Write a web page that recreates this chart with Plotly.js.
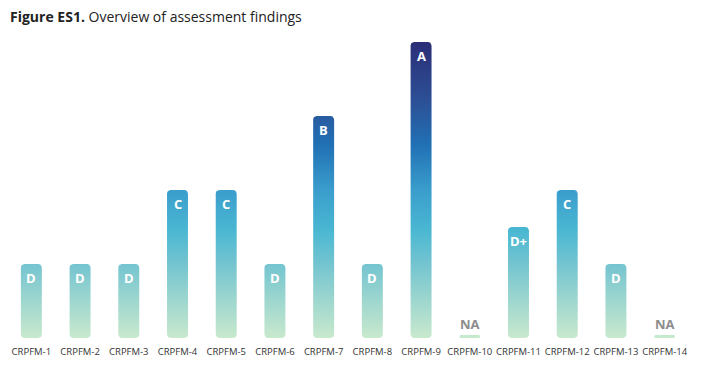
<!DOCTYPE html>
<html>
<head>
<meta charset="utf-8">
<script src="https://cdn.plot.ly/plotly-3.0.1.min.js"></script>
<style>html,body{margin:0;padding:0;background:#fff}#chart{width:717px;height:389px}</style>
</head>
<body>
<div id="chart"></div>
<script>
// ---- data ----
const categories = ["CRPFM-1","CRPFM-2","CRPFM-3","CRPFM-4","CRPFM-5","CRPFM-6","CRPFM-7","CRPFM-8","CRPFM-9","CRPFM-10","CRPFM-11","CRPFM-12","CRPFM-13","CRPFM-14"];
const grades = ["D","D","D","C","C","D","B","D","A","NA","D+","C","D","NA"];
const scores = [1, 1, 1, 2, 2, 1, 3, 1, 4, 0.04, 1.5, 2, 1, 0.04];

// ---- layout geometry ----
const W = 717, H = 389;
const margin = {l: 7, r: 28, t: 42, b: 51};
const yMax = 4;
const pxPerX = (W - margin.l - margin.r) / categories.length;
const pxPerY = (H - margin.t - margin.b) / yMax;
const halfW = 0.215;
const radPx = 3.5;
const rx = radPx / pxPerX, ry = radPx / pxPerY;

// Build rounded-rectangle polygons from data values
const px = [], py = [];
scores.forEach((v, i) => {
  const x0 = i - halfW, x1 = i + halfW;
  const r_y = Math.min(ry, v / 2), r_x = rx * (r_y / ry);
  const pts = [];
  function arc(cx, cy, a0, a1) {
    const n = 6;
    for (let k = 0; k <= n; k++) {
      const a = a0 + (a1 - a0) * k / n;
      pts.push([cx + r_x * Math.cos(a), cy + r_y * Math.sin(a)]);
    }
  }
  arc(x0 + r_x, r_y, Math.PI, 1.5 * Math.PI);
  arc(x1 - r_x, r_y, 1.5 * Math.PI, 2 * Math.PI);
  arc(x1 - r_x, v - r_y, 0, 0.5 * Math.PI);
  arc(x0 + r_x, v - r_y, 0.5 * Math.PI, Math.PI);
  pts.push(pts[0]);
  pts.forEach(p => { px.push(p[0]); py.push(Math.max(0, p[1])); });
  px.push(null); py.push(null);
});

const colorscale = [
  [0.0, "#c8e9cd"],
  [0.25, "#74c4d0"],
  [0.36, "#4bb8d2"],
  [0.5, "#3a9dcc"],
  [0.65, "#2171b5"],
  [0.8, "#2c5096"],
  [1.0, "#2b2e77"]
];

const traces = [{
  type: "scatter",
  mode: "lines",
  x: px, y: py,
  fill: "toself",
  connectgaps: false,
  line: {width: 0, color: "rgba(0,0,0,0)"},
  fillgradient: {type: "vertical", colorscale: colorscale, start: 0, stop: yMax},
  hoverinfo: "skip",
  showlegend: false
}];

const annotations = grades.map((g, i) => {
  const isNA = g === "NA";
  return {
    x: i, y: scores[i], xref: "x", yref: "y",
    text: "<b>" + g + "</b>",
    showarrow: false,
    yanchor: isNA ? "bottom" : "top",
    yshift: isNA ? 0 : -3,
    font: {family: "Open Sans", size: 13, color: isNA ? "#8c8c8c" : "#ffffff"}
  };
});

const layout = {
  width: W, height: H,
  margin: margin,
  paper_bgcolor: "#fff", plot_bgcolor: "#fff",
  title: {
    text: "<b>Figure ES1.</b> Overview of assessment findings",
    font: {family: "Open Sans", size: 14, color: "#222"},
    xref: "container", x: 10 / W, xanchor: "left",
    yref: "container", y: 1 - 17 / H, yanchor: "middle"
  },
  xaxis: {
    range: [-0.5, categories.length - 0.5],
    tickvals: categories.map((c, i) => i),
    ticktext: categories,
    showgrid: false, zeroline: false, showline: false, ticks: "",
    ticklabelstandoff: 6,
    tickfont: {family: "Open Sans", size: 9.5, color: "#333"},
    fixedrange: true
  },
  yaxis: {
    range: [0, yMax],
    visible: false, showgrid: false, zeroline: false,
    fixedrange: true
  },
  annotations: annotations,
  showlegend: false
};

Plotly.newPlot("chart", traces, layout, {displayModeBar: false, staticPlot: true});
</script>
</body>
</html>
